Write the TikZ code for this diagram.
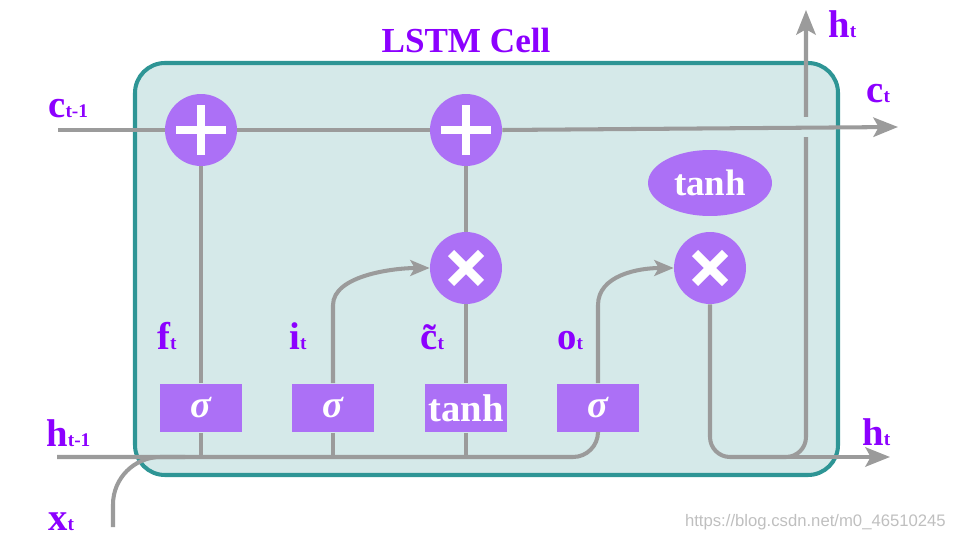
\documentclass[tikz,border=0pt]{standalone}
\usepackage{fontspec}
\setmainfont{Liberation Serif}
\newfontfamily\wmfont{Liberation Sans}
\usetikzlibrary{arrows.meta, shapes.geometric}
\definecolor{cellFill}{HTML}{D5E9E9}
\definecolor{cellBorder}{HTML}{2E9595}
\definecolor{opColor}{HTML}{AC70F6}
\definecolor{labelColor}{HTML}{8C00FF}
\definecolor{wireColor}{HTML}{9B9B9B}
\newcommand{\vsub}[2]{#1{\fontsize{11pt}{11pt}\selectfont #2}}

\tikzset{
    op/.style={circle, fill=opColor, minimum size=1.44cm, inner sep=0pt},
    plusop/.style={op, path picture={
        \draw[white, line width=5pt]
            ([xshift=-0.5cm]path picture bounding box.center) -- ([xshift=0.5cm]path picture bounding box.center)
            ([yshift=-0.5cm]path picture bounding box.center) -- ([yshift=0.5cm]path picture bounding box.center);}},
    timesop/.style={op, path picture={
        \draw[white, line width=5pt]
            ([shift={(-0.3cm,-0.3cm)}]path picture bounding box.center) -- ([shift={(0.3cm,0.3cm)}]path picture bounding box.center)
            ([shift={(-0.3cm,0.3cm)}]path picture bounding box.center) -- ([shift={(0.3cm,-0.3cm)}]path picture bounding box.center);}},
    gate/.style={rectangle, fill=opColor, minimum width=1.64cm, minimum height=0.98cm, inner sep=0pt,
        text=white, font=\fontsize{22pt}{22pt}\selectfont\bfseries},
    flow/.style={draw=wireColor, line width=2.3pt},
    tip/.style={-{Stealth[length=14pt, width=11pt, inset=3pt]}},
    smalltip/.style={-{Stealth[length=11pt, width=9pt, inset=2.5pt]}},
    lbl/.style={text=labelColor, font=\fontsize{22pt}{22pt}\selectfont\bfseries, anchor=base west, inner sep=0pt}
}

\begin{document}
\begin{tikzpicture}[x=0.02cm, y=-0.02cm]
    \useasboundingbox (0,0) rectangle (960,540);
    % cell
    \draw[fill=cellFill, draw=cellBorder, line width=2.3pt, rounded corners=0.6cm] (135,63) rectangle (838,475);
    \node[text=labelColor, font=\fontsize{20pt}{20pt}\selectfont\bfseries] (title) at (466,40) {LSTM Cell};

    % operations
    \node[plusop] (p1) at (201,130) {};
    \node[plusop] (p2) at (466,130) {};
    \node[timesop] (x1) at (466,268) {};
    \node[timesop] (x2) at (710,268) {};
    \node[ellipse, fill=opColor, minimum width=2.48cm, minimum height=1.32cm, text=white,
          font=\fontsize{21pt}{21pt}\selectfont\bfseries] (th) at (710,183) {tanh};

    % gates
    \node[gate] (f) at (201,408) {\textit{σ}};
    \node[gate] (i) at (333,408) {\textit{σ}};
    \node[gate] (g) at (466,408) {tanh};
    \node[gate] (o) at (598,408) {\textit{σ}};

    \coordinate (cin) at (58,130);
    \coordinate (cout) at (898,127);
    \coordinate (hin) at (57,457);
    \coordinate (xin) at (113,527);
    \coordinate (xjoin) at (185,457);
    \coordinate (hcross) at (806,457);
    \coordinate (htop) at (806,10);
    \coordinate (hsplit) at (770,457);
    \coordinate (hout) at (890,457);

    % hidden state paths
    \draw[flow, rounded corners=0.5cm] (hin) -| (o.south);
    \draw[flow, rounded corners=0.95cm] (xin) |- (xjoin);
    \draw[flow] (f.south) -- (f.south |- hin);
    \draw[flow] (i.south) -- (i.south |- hin);
    \draw[flow] (g.south) -- (g.south |- hin);
    \draw[flow, tip, rounded corners=0.4cm] (x2.south) |- (hcross) -- (htop);
    \draw[flow, tip] (hsplit) -- (hout);

    % gate outputs
    \draw[flow] (f.north) -- (p1.south);
    \draw[flow] (g.north) -- (x1.south);
    \draw[flow] (x1.north) -- (p2.south);
    \draw[flow, smalltip] (i.north) -- ++(0,-78) .. controls ++(0,-30) and ++(-35,0) .. (x1.west);
    \draw[flow, smalltip] (o.north) -- ++(0,-78) .. controls ++(0,-30) and ++(-35,0) .. (x2.west);

    % cell state
    \fill[cellFill] (799,117) rectangle (813,137);
    \draw[flow] (cin) -- (p1.west);
    \draw[flow] (p1.east) -- (p2.west);
    \draw[flow, tip] (p2.east) -- (cout);

    % labels
    \node[lbl] (lc0) at (48,118) {\vsub{c}{t-1}};
    \node[lbl] (lh0) at (46,446) {\vsub{h}{t-1}};
    \node[lbl] (lx) at (48,530) {\vsub{x}{t}};
    \node[lbl] (lf) at (157,350) {\vsub{f}{t}};
    \node[lbl] (li) at (289,350) {\vsub{i}{t}};
    \node[lbl] (lg) at (420,350) {\vsub{\~{c}}{t}};
    \node[lbl] (lo) at (557,350) {\vsub{o}{t}};
    \node[lbl] (lht) at (828,38) {\vsub{h}{t}};
    \node[lbl] (lct) at (866,103) {\vsub{c}{t}};
    \node[lbl] (lho) at (862,445) {\vsub{h}{t}};

    \node[text=gray!50, font=\wmfont\fontsize{9.5pt}{9.5pt}\selectfont, anchor=east] (wm) at (952,522) {https://blog.csdn.net/m0\_46510245};
\end{tikzpicture}
\end{document}
